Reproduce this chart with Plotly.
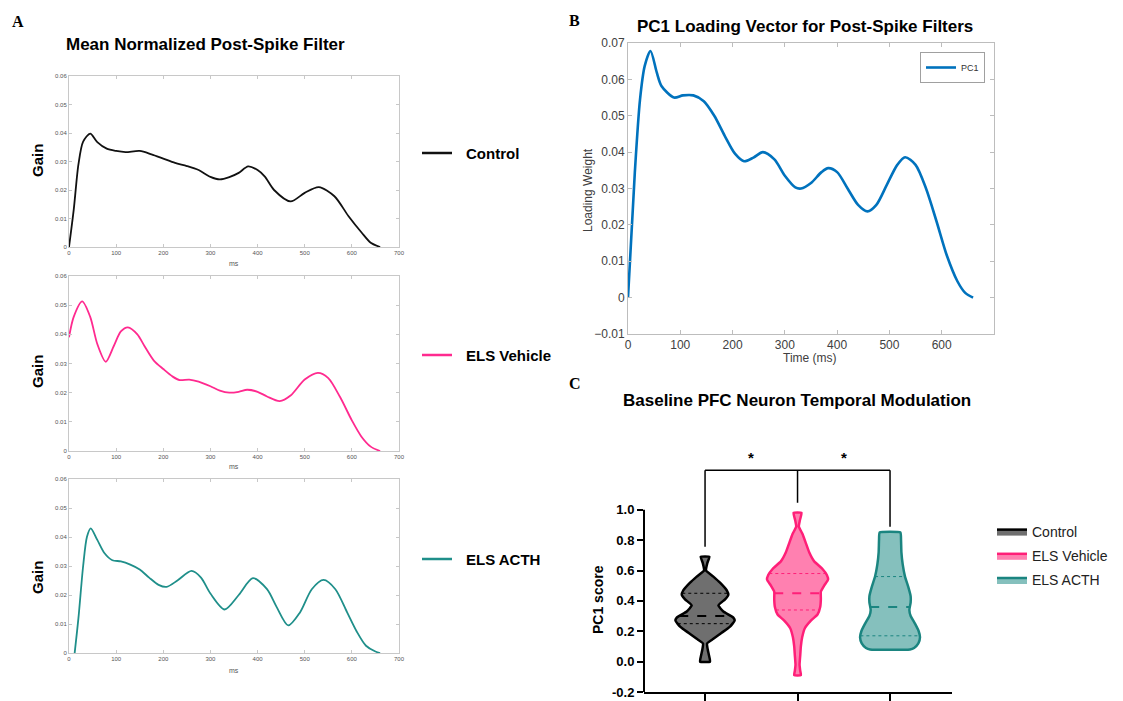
import numpy as np
import plotly.graph_objects as go

W, H = 1123, 701
OFF = 8  # page body margin offset in the browser

# ---------------- Panel A data (mean normalized post-spike filters) ----------------
t_ctrl = [0, 10, 20, 30, 45, 60, 80, 100, 120, 150, 175, 200, 225, 250, 275, 300, 320, 340, 360,
          380, 400, 415, 435, 470, 500, 530, 563, 593, 621, 640, 660]
g_ctrl = [0, 0.013, 0.029, 0.037, 0.0398, 0.0368, 0.0345, 0.0337, 0.0333, 0.0337, 0.0325, 0.031,
          0.0295, 0.0284, 0.027, 0.0246, 0.0237, 0.0245, 0.026, 0.0283, 0.027, 0.0248, 0.020, 0.016,
          0.019, 0.021, 0.0178, 0.0108, 0.005, 0.0015, 0]

t_veh = [0, 10, 28, 45, 60, 78, 95, 110, 125, 145, 160, 180, 200, 220, 235, 255, 275, 300, 320, 340,
         360, 378, 400, 420, 447, 470, 500, 528, 550, 575, 600, 620, 640, 660]
g_veh = [0.039, 0.046, 0.0513, 0.046, 0.0367, 0.0306, 0.036, 0.041, 0.0424, 0.040, 0.036, 0.031,
         0.0281, 0.0255, 0.0243, 0.0245, 0.0238, 0.0222, 0.0207, 0.0200, 0.0203, 0.0210, 0.0203,
         0.0187, 0.0171, 0.019, 0.0245, 0.0268, 0.025, 0.0185, 0.0105, 0.005, 0.0015, 0]

t_acth = [12, 20, 30, 38, 46, 60, 75, 92, 110, 130, 150, 170, 190, 207, 230, 260, 280, 300, 330, 360,
          390, 420, 440, 465, 490, 515, 540, 565, 590, 610, 630, 650, 660]
g_acth = [0, 0.012, 0.030, 0.040, 0.043, 0.039, 0.0345, 0.032, 0.0316, 0.0305, 0.0288, 0.026, 0.0235,
          0.0228, 0.025, 0.0283, 0.026, 0.0205, 0.015, 0.020, 0.0258, 0.022, 0.016, 0.0095, 0.014,
          0.022, 0.0252, 0.022, 0.014, 0.0075, 0.0025, 0.0005, 0]

# ---------------- Panel B data (PC1 loading vector) ----------------
t_pc1 = [0, 13, 23, 32, 43, 55, 64, 88, 105, 125, 145, 165, 185, 205, 222, 240, 258, 280, 300, 320,
         331, 350, 370, 383, 400, 420, 440, 458, 475, 495, 515, 530, 550, 570, 590, 610, 630, 645, 660]
v_pc1 = [0, 0.0343, 0.0545, 0.0637, 0.0678, 0.0619, 0.0582, 0.055, 0.0556, 0.0556, 0.054, 0.050,
         0.0445, 0.0395, 0.0375, 0.0385, 0.040, 0.038, 0.0335, 0.0303, 0.030, 0.0315, 0.0345, 0.0356,
         0.0345, 0.030, 0.0255, 0.0237, 0.0255, 0.031, 0.0365, 0.0386, 0.0365, 0.030, 0.021, 0.0115,
         0.0045, 0.0013, 0]

# ---------------- Panel C data (PC1 score violins) ----------------
groups = ["Control", "ELS Vehicle", "ELS ACTH"]
ctrl_y = [0.69, 0.65, 0.60, 0.56, 0.52, 0.47, 0.44, 0.41, 0.37, 0.33, 0.29, 0.27, 0.23, 0.19, 0.15,
          0.12, 0.08, 0.04, 0.0]
ctrl_hw = [0.047, 0.025, 0.011, 0.09, 0.162, 0.234, 0.252, 0.216, 0.144, 0.198, 0.306, 0.32, 0.27,
           0.18, 0.09, 0.022, 0.029, 0.043, 0.054]
veh_y = [0.98, 0.93, 0.89, 0.84, 0.78, 0.72, 0.66, 0.61, 0.57, 0.54, 0.50, 0.46, 0.41, 0.36, 0.31,
         0.27, 0.22, 0.16, 0.10, 0.04, -0.02, -0.06, -0.09]
veh_hw = [0.043, 0.025, 0.014, 0.054, 0.09, 0.126, 0.18, 0.27, 0.317, 0.33, 0.288, 0.252, 0.252,
          0.245, 0.216, 0.144, 0.079, 0.05, 0.036, 0.029, 0.022, 0.029, 0.036]
acth_y = [0.85, 0.80, 0.72, 0.64, 0.56, 0.49, 0.43, 0.39, 0.34, 0.30, 0.25, 0.20, 0.16, 0.12, 0.09,
          0.08]
acth_hw = [0.112, 0.119, 0.123, 0.137, 0.162, 0.198, 0.223, 0.223, 0.209, 0.223, 0.27, 0.31, 0.324,
           0.306, 0.26, 0.216]
medians = [0.30, 0.45, 0.36]
q1 = [0.25, 0.34, 0.17]
q3 = [0.45, 0.58, 0.56]
bracket_top = 1.26
bracket_feet = [0.757, 1.046, 0.888]
sig_labels = ["*", "*"]

y_ticks_c = [-0.2, 0.0, 0.2, 0.4, 0.6, 0.8, 1.0]

FONT = "Arial, Liberation Sans, sans-serif"
SERIF = "Times New Roman, Liberation Serif, serif"

col_ctrl = "#111111"
col_veh = "#ff2a8f"
col_acth = "#1f8f8a"
col_pc1 = "#0072BD"


def px_x(p):
    return (p - OFF) / W


def px_y(p):
    return 1 - (p - OFF) / H


fig = go.Figure()

# Panel A curves
for i, (t, g, c) in enumerate([(t_ctrl, g_ctrl, col_ctrl), (t_veh, g_veh, col_veh),
                               (t_acth, g_acth, col_acth)]):
    sfx = "" if i == 0 else str(i + 1)
    fig.add_trace(go.Scatter(x=t, y=g, mode="lines", line=dict(color=c, width=1.8, shape="spline",
                                                                smoothing=0.8),
                             xaxis="x" + sfx, yaxis="y" + sfx, showlegend=False, hoverinfo="skip"))

# Panel B curve
fig.add_trace(go.Scatter(x=t_pc1, y=v_pc1, mode="lines", name="PC1",
                         line=dict(color=col_pc1, width=2.6, shape="spline", smoothing=0.8),
                         xaxis="x4", yaxis="y4", legend="legend2"))

# Panel C violins
vio = [(ctrl_y, ctrl_hw, "#6f6f6f", "#000000"),
       (veh_y, veh_hw, "#ff80b0", "#ff1f78"),
       (acth_y, acth_hw, "#85c0bd", "#1b8580")]
for k, (yy, hw, fillc, linec) in enumerate(vio):
    yy = np.array(yy)
    hw = np.array(hw)
    xs = np.concatenate([k + hw, (k - hw)[::-1], [k + hw[0]]])
    ys = np.concatenate([yy, yy[::-1], [yy[0]]])
    fig.add_trace(go.Scatter(x=xs, y=ys, mode="lines", fill="toself", fillcolor=fillc,
                             line=dict(color=linec, width=2.5, shape="spline", smoothing=0.4),
                             name=groups[k], xaxis="x5", yaxis="y5", legend="legend3",
                             legendgroup=groups[k], hoverinfo="skip"))
    ya = yy[::-1]
    ha = hw[::-1]
    for q, dash in [(medians[k], "dash"), (q1[k], "dot"), (q3[k], "dot")]:
        w = float(np.interp(q, ya, ha))
        fig.add_trace(go.Scatter(x=[k - w, k + w], y=[q, q], mode="lines",
                                 line=dict(color=linec, width=2 if dash == "dash" else 1, dash=dash),
                                 xaxis="x5", yaxis="y5", showlegend=False, hoverinfo="skip"))

# ---------------- axes ----------------
a_dom_x = [px_x(69), px_x(399)]
a_doms_y = [[px_y(247), px_y(76)], [px_y(451), px_y(276)], [px_y(653), px_y(479)]]
layout_axes = {}
for i in range(3):
    sfx = "" if i == 0 else str(i + 1)
    common = dict(showgrid=False, zeroline=False, showline=True, linecolor="#c8c8c8", linewidth=1,
                  mirror="allticks", ticks="inside", ticklen=3, tickcolor="#c8c8c8", automargin=False,
                  tickfont=dict(size=6, color="#555555", family=FONT))
    layout_axes["xaxis" + sfx] = dict(domain=a_dom_x, range=[0, 700], tickvals=list(range(0, 701, 100)),
                                      anchor="y" + sfx, **common)
    layout_axes["yaxis" + sfx] = dict(domain=a_doms_y[i], range=[0, 0.06],
                                      tickvals=[0, 0.01, 0.02, 0.03, 0.04, 0.05, 0.06],
                                      anchor="x" + sfx, **common)

bcommon = dict(showgrid=False, zeroline=False, showline=True, linecolor="#bdbdbd", linewidth=1,
               mirror="allticks", ticks="inside", ticklen=4, tickcolor="#bdbdbd", automargin=False,
               tickfont=dict(size=12, color="#404040", family=FONT))
layout_axes["xaxis4"] = dict(domain=[px_x(628), px_x(994)], range=[0, 700],
                             tickvals=[0, 100, 200, 300, 400, 500, 600], anchor="y4", **bcommon)
layout_axes["yaxis4"] = dict(domain=[px_y(334), px_y(43)], range=[-0.01, 0.07],
                             tickvals=[-0.01, 0, 0.01, 0.02, 0.03, 0.04, 0.05, 0.06, 0.07],
                             anchor="x4", **bcommon)

layout_axes["xaxis5"] = dict(domain=[px_x(644), px_x(952)], range=[-0.66, 2.67], anchor="y5",
                             showgrid=False, zeroline=False, showline=True, linecolor="black",
                             linewidth=2, ticks="outside", ticklen=8, tickwidth=2, tickcolor="black",
                             tickvals=[0, 1, 2], ticktext=["", "", ""], automargin=False)
layout_axes["yaxis5"] = dict(domain=[px_y(692), px_y(449)], range=[-0.2, 1.4], anchor="x5",
                             showgrid=False, zeroline=False, showline=False, ticks="outside",
                             ticklen=6, tickwidth=2, tickcolor="black", tickvals=y_ticks_c,
                             ticktext=["%.1f" % v for v in y_ticks_c], automargin=False,
                             tickfont=dict(size=13, color="black", family=FONT, weight="bold"))

fig.update_layout(width=W, height=H, margin=dict(l=0, r=0, t=0, b=0, pad=0), plot_bgcolor="white",
                  paper_bgcolor="white", **layout_axes)

fig.update_layout(
    legend2=dict(x=px_x(985), y=px_y(52), xanchor="right", yanchor="top", bgcolor="white",
                 bordercolor="#a0a0a0", borderwidth=1, font=dict(size=9, color="#333", family=FONT),
                 itemwidth=30, tracegroupgap=0),
    legend3=dict(x=px_x(992), y=px_y(516), xanchor="left", yanchor="top", bgcolor="rgba(0,0,0,0)",
                 font=dict(size=14, color="#222", family=FONT), traceorder="grouped",
                 tracegroupgap=3, itemwidth=30),
)

shapes = []
# y-axis line for panel C
shapes.append(dict(type="line", xref="x5 domain", yref="y5", x0=0, x1=0, y0=-0.2, y1=1.0,
                   line=dict(color="black", width=2)))
# significance brackets
shapes.append(dict(type="line", xref="x5", yref="y5", x0=0, x1=2, y0=bracket_top, y1=bracket_top,
                   line=dict(color="black", width=1.5)))
for k, foot in enumerate(bracket_feet):
    shapes.append(dict(type="line", xref="x5", yref="y5", x0=k, x1=k, y0=foot, y1=bracket_top,
                       line=dict(color="black", width=1.5)))

# panel A legend lines
a_leg = [("Control", 153, col_ctrl), ("ELS Vehicle", 355, col_veh), ("ELS ACTH", 559, col_acth)]
annotations = []
for name, yp, c in a_leg:
    shapes.append(dict(type="line", xref="paper", yref="paper", x0=px_x(422), x1=px_x(452),
                       y0=px_y(yp), y1=px_y(yp), line=dict(color=c, width=2.5)))
    annotations.append(dict(text="<b>%s</b>" % name, x=px_x(464), y=px_y(yp), xref="paper",
                            yref="paper", xanchor="left", yanchor="middle", showarrow=False,
                            font=dict(size=15, color="black", family=FONT)))


def ann(text, xp, yp, size, color="black", family=FONT, angle=0):
    return dict(text=text, x=px_x(xp), y=px_y(yp), xref="paper", yref="paper", xanchor="center",
                yanchor="middle", showarrow=False, textangle=angle,
                font=dict(size=size, color=color, family=family))


# Gain labels, ms labels
for yp in [161, 372, 578]:
    annotations.append(ann("<b>Gain</b>", 37, yp, 15, angle=-90))
for yp in [263, 467, 670]:
    annotations.append(ann("ms", 234, yp, 7, color="#555555"))

# titles and labels
annotations += [
    ann("<b>Mean Normalized Post-Spike Filter</b>", 205, 45, 17),
    ann("<b>PC1 Loading Vector for Post-Spike Filters</b>", 805, 27, 17),
    ann("<b>Baseline PFC Neuron Temporal Modulation</b>", 797, 400, 17),
    ann("<b>A</b>", 18, 22, 16, family=SERIF),
    ann("<b>B</b>", 574, 20, 16, family=SERIF),
    ann("<b>C</b>", 575, 383, 16, family=SERIF),
    ann("Loading Weight", 588, 190, 12, color="#404040", angle=-90),
    ann("Time (ms)", 810, 358, 12, color="#404040"),
    ann("<b>PC1 score</b>", 598, 600, 14, angle=-90),
]
# significance stars
for j, lab in enumerate(sig_labels):
    annotations.append(dict(text="<b>%s</b>" % lab, x=j + 0.5, y=bracket_top, xref="x5", yref="y5",
                            xanchor="center", yanchor="bottom", yshift=2, showarrow=False,
                            font=dict(size=15, color="black", family=FONT)))

fig.update_layout(shapes=shapes, annotations=annotations)

fig.write_html("out.html")
